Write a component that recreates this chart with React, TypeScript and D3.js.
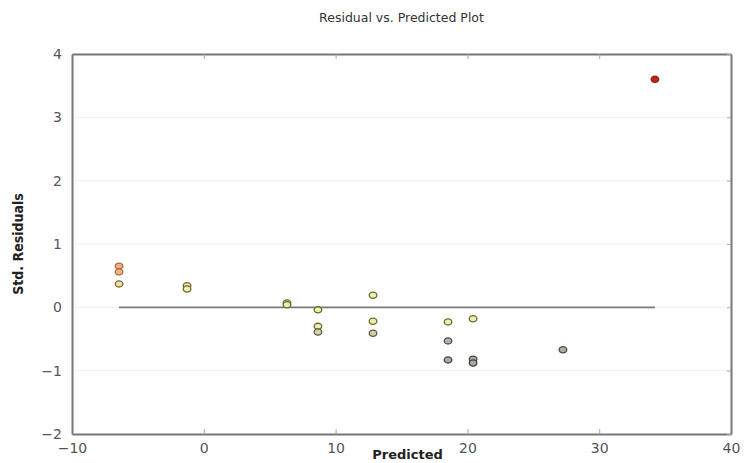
import React from "react";
import * as d3 from "d3";

// predicted value and standardised residual of each observation
const predicted = [
  -6.43, -6.43, -6.43,
  -1.27, -1.27,
  6.31, 6.31,
  8.66, 8.66, 8.66,
  12.84, 12.84, 12.84,
  18.53, 18.53, 18.53,
  20.43, 20.43, 20.43,
  27.25,
  34.23,
];
const residuals = [
  0.65, 0.56, 0.37,
  0.34, 0.29,
  0.07, 0.04,
  -0.04, -0.3, -0.39,
  0.19, -0.22, -0.41,
  -0.23, -0.53, -0.83,
  -0.18, -0.82, -0.88,
  -0.67,
  3.6,
];
const xTicks = [-10, 0, 10, 20, 30, 40];
const yTicks = [-2, -1, 0, 1, 2, 3, 4];

const W = 747;
const H = 463;
const margin = { top: 54, right: 16, bottom: 29, left: 72 };

const App = () => {
  const svgRef = React.useRef<SVGSVGElement | null>(null);

  React.useEffect(() => {
    drawChart();
  }, []);

  const drawChart = () => {
    if (!svgRef.current) return;
    const svg = d3.select(svgRef.current);
    svg.selectAll("*").remove();

    const x = d3.scaleLinear().domain([-10, 40]).range([margin.left, W - margin.right]);
    const y = d3.scaleLinear().domain([-2, 4]).range([H - margin.bottom, margin.top]);

    const fillColor = d3
      .scaleLinear<string>()
      .domain([-0.9, -0.5, -0.3, 0.3, 0.6, 3.6])
      .range(["#a8a8a0", "#b4b4a4", "#eeeeb4", "#eeeeb0", "#f0b088", "#c02818"])
      .clamp(true);
    const strokeColor = d3
      .scaleLinear<string>()
      .domain([-0.9, -0.5, -0.3, 0.3, 0.6, 3.6])
      .range(["#404040", "#505050", "#6a6a2a", "#6a6a2a", "#b06a40", "#902018"])
      .clamp(true);

    const font = "'DejaVu Sans', sans-serif";
    const fmt = (d: d3.NumberValue) => d3.format("d")(d as number).replace("-", "\u2212");

    // Title
    svg.append("text")
      .attr("x", (x(-10) + x(40)) / 2)
      .attr("y", 22)
      .attr("text-anchor", "middle")
      .attr("font-family", font)
      .attr("font-size", 12.5)
      .attr("fill", "#333")
      .text("Residual vs. Predicted Plot");

    // faint grid lines
    svg.append("g")
      .selectAll("line")
      .data(yTicks.slice(1, -1))
      .join("line")
      .attr("x1", x(-10))
      .attr("x2", x(40))
      .attr("y1", d => y(d))
      .attr("y2", d => y(d))
      .attr("stroke", "#f0f0f0")
      .attr("stroke-width", 1);

    // Zero line from min to max predicted
    const xExtent = d3.extent(predicted) as [number, number];
    svg.append("line")
      .attr("x1", x(xExtent[0]))
      .attr("x2", x(xExtent[1]))
      .attr("y1", y(0))
      .attr("y2", y(0))
      .attr("stroke", "#7a7a7a")
      .attr("stroke-width", 1.6);

    // Axes (ticks inside)
    const xAxisB = d3.axisBottom(x).tickValues(xTicks).tickFormat(fmt).tickSizeInner(-5).tickSizeOuter(0).tickPadding(9);
    const xAxisT = d3.axisTop(x).tickValues(xTicks).tickSizeInner(-5).tickSizeOuter(0).tickFormat(() => "");
    const yAxisL = d3.axisLeft(y).tickValues(yTicks).tickFormat(fmt).tickSizeInner(0).tickSizeOuter(0).tickPadding(10);
    const yAxisR = d3.axisRight(y).tickValues(yTicks).tickSizeInner(-4).tickSizeOuter(0).tickFormat(() => "");

    const styleAxis = (g: d3.Selection<SVGGElement, unknown, null, undefined>) => {
      g.select(".domain").attr("stroke", "#777").attr("stroke-width", 2);
      g.selectAll(".tick line").attr("stroke", "#aaa").attr("stroke-width", 1);
      g.selectAll(".tick text")
        .attr("font-family", font)
        .attr("font-size", 14)
        .attr("fill", "#555");
    };

    svg.append("g").attr("transform", `translate(0,${H - margin.bottom})`).call(xAxisB).call(styleAxis);
    svg.append("g").attr("transform", `translate(0,${margin.top})`).call(xAxisT).call(styleAxis);
    svg.append("g").attr("transform", `translate(${margin.left},0)`).call(yAxisL).call(styleAxis);
    svg.append("g").attr("transform", `translate(${W - margin.right},0)`).call(yAxisR).call(styleAxis);

    // Axis labels
    svg.append("text")
      .attr("x", (x(-10) + x(40)) / 2 + 6)
      .attr("y", H - 4)
      .attr("text-anchor", "middle")
      .attr("font-family", font)
      .attr("font-weight", "bold")
      .attr("font-size", 13)
      .attr("fill", "#222")
      .text("Predicted");

    svg.append("text")
      .attr("transform", `translate(23,${(y(-2) + y(4)) / 2}) rotate(-90)`)
      .attr("text-anchor", "middle")
      .attr("font-family", "'Liberation Sans Narrow', 'DejaVu Sans Condensed', sans-serif")
      .attr("font-weight", "bold")
      .attr("font-size", 14)
      .attr("fill", "#222")
      .text("Std. Residuals");

    // Points
    svg.append("g")
      .selectAll("ellipse")
      .data(predicted.map((p, i) => ({ p, r: residuals[i] })))
      .join("ellipse")
      .attr("cx", d => x(d.p))
      .attr("cy", d => y(d.r))
      .attr("rx", 3.8)
      .attr("ry", 3.1)
      .attr("fill", d => fillColor(d.r))
      .attr("stroke", d => strokeColor(d.r))
      .attr("stroke-width", 1.3);
  };

  return (
    <svg ref={svgRef} width={W} height={H} style={{ display: "block", position: "absolute", left: 0, top: 0, background: "#fff" }} />
  );
};

export default App;
